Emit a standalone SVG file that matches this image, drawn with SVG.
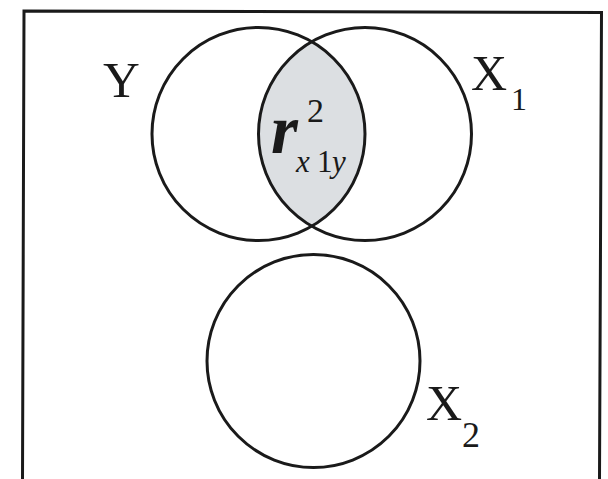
<svg xmlns="http://www.w3.org/2000/svg" width="608" height="479" viewBox="0 0 608 479">
  <style>
    .ring { fill: none; stroke: #1a1a1a; stroke-width: 3; }
    .lbl { font-family: 'Liberation Serif', 'Times New Roman', serif; fill: #1a1a1a; }
  </style>
  <rect x="0" y="0" width="608" height="479" fill="#ffffff"/>
  <g id="frame">
    <path d="M22.5,479 L24,11 L601.5,12.5 L599.5,479" fill="none" stroke="#1a1a1a" stroke-width="3"/>
  </g>
  <g id="overlap">
    <path d="M311.75,41.8 A106.5,106.5 0 0 1 311.75,226.2 A106.5,106.5 0 0 1 311.75,41.8 Z" fill="#dcdfe2"/>
  </g>
  <g id="node-Y">
    <circle class="ring" cx="258.5" cy="134" r="106.5"/>
    <text class="lbl" x="103" y="97" font-size="51">Y</text>
  </g>
  <g id="node-X1">
    <circle class="ring" cx="365" cy="134" r="106.5"/>
    <text class="lbl" x="471" y="90" font-size="50">X</text>
    <text class="lbl" x="511" y="110" font-size="32">1</text>
  </g>
  <g id="node-X2">
    <circle class="ring" cx="313.5" cy="361" r="106.5"/>
    <text class="lbl" x="426" y="420" font-size="50">X</text>
    <text class="lbl" x="462" y="447" font-size="36">2</text>
  </g>
  <g id="label-r2">
    <text class="lbl" x="271" y="153" font-size="69" font-weight="bold" font-style="italic">r</text>
    <text class="lbl" x="307" y="122" font-size="34">2</text>
    <text class="lbl" y="172" font-size="31"><tspan x="296" font-style="italic">x</tspan><tspan x="317">1</tspan><tspan x="332" font-style="italic">y</tspan></text>
  </g>
  <g id="connectors"/>
</svg>
